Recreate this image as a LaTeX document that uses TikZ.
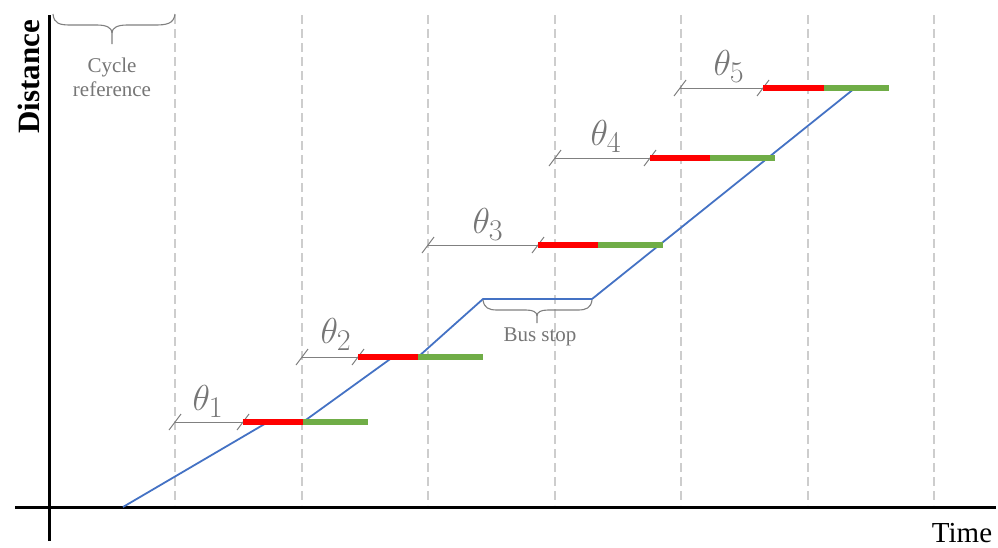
\documentclass[tikz,border=0pt]{standalone}
\usepackage{fontspec}
\setmainfont{Liberation Serif}
\definecolor{gridgray}{RGB}{205,205,205}
\definecolor{txtgray}{RGB}{118,118,118}
\definecolor{dimgray}{RGB}{128,128,128}
\definecolor{sigred}{RGB}{255,0,0}
\definecolor{siggreen}{RGB}{112,173,71}
\definecolor{trajblue}{RGB}{68,114,196}
\begin{document}
\begin{tikzpicture}[x=1pt,y=-1pt,
  axis/.style={line width=3pt,black},
  gridline/.style={gridgray,line width=1.2pt,dash pattern=on 9pt off 5pt},
  dimline/.style={dimgray,line width=1pt},
  tickmark/.style={dimgray,line width=1pt},
  redbar/.style={sigred,line width=6pt},
  greenbar/.style={siggreen,line width=6pt},
  traj/.style={trajblue,line width=1.8pt,line join=round},
  bracestyle/.style={dimgray,line width=1.1pt,line join=round},
  thetalabel/.style={txtgray,font=\Huge,scale=1.45,inner sep=0pt},
  graytext/.style={txtgray,font=\fontsize{21}{24}\selectfont,align=center,inner sep=0pt},
  axislabel/.style={black,inner sep=0pt}
]
\useasboundingbox (0,0) rectangle (998,547);
% grid lines
\foreach \gx [count=\i] in {175,302,428,555,681,808,934}{
  \coordinate (gt\i) at (\gx,15);
  \coordinate (gb\i) at (\gx,505);
  \draw[gridline] (gt\i) -- (gb\i);
}
% axes
\coordinate (yb) at (49,541);
\coordinate (yt) at (49,15);
\coordinate (xl) at (15,507);
\coordinate (xr) at (996,507);
\draw[axis] (yb) -- (yt);
\draw[axis] (xl) -- (xr);
\node[axislabel,rotate=90,font=\fontsize{31}{34}\selectfont\bfseries] (dist) at (29,77) {Distance};
\node[axislabel,font=\fontsize{29}{32}\selectfont] (time) at (962,533) {Time};
% trajectory
\coordinate (p0) at (123,507);
\coordinate (p1) at (268,422);
\coordinate (q1) at (303,422);
\coordinate (p2) at (393,357);
\coordinate (q2) at (418,357);
\coordinate (bs1) at (483,299);
\coordinate (bs2) at (592,299);
\coordinate (pend) at (855,88);
\draw[traj] (p0) -- (p1) -- (q1) -- (p2) -- (q2) -- (bs1) -- (bs2) -- (pend);
% signal bars and offsets
\foreach \s/\r/\g/\e/\yy/\lx/\ly [count=\k] in
  {175/243/303/368/422/208/401,
   302/358/418/483/357/336/334,
   428/538/598/663/245/488/224,
   555/650/710/775/158/606/136,
   680/763/824/889/88/729/66}{
  \coordinate (ds\k) at (\s,\yy);
  \coordinate (rs\k) at (\r,\yy);
  \coordinate (gs\k) at (\g,\yy);
  \coordinate (ge\k) at (\e,\yy);
  \draw[dimline] (ds\k) -- (rs\k);
  \draw[tickmark] ([shift={(-6,8)}]ds\k) -- ([shift={(6,-8)}]ds\k);
  \draw[tickmark] ([shift={(-6,8)}]rs\k) -- ([shift={(6,-8)}]rs\k);
  \draw[redbar] (rs\k) -- (gs\k);
  \draw[greenbar] (gs\k) -- (ge\k);
  \node[thetalabel] (th\k) at (\lx,\ly) {$\theta_{\k}$};
}
% cycle reference brace
\coordinate (cr1) at (53,14);
\coordinate (cr2) at (175,14);
\coordinate (crm) at (112,33);
\coordinate (crt) at (112,44);
\draw[bracestyle] (cr1) .. controls (54,24) and (60,25) .. (71,25) -- (97,25)
  .. controls (107,25) and (112,28) .. (crm) -- (crt);
\draw[bracestyle] (cr2) .. controls (174,24) and (166,25) .. (155,25) -- (127,25)
  .. controls (117,25) and (112,28) .. (crm);
\node[graytext] (cyc) at (112,77) {Cycle\\reference};
% bus stop brace
\coordinate (bb1) at (483,300);
\coordinate (bb2) at (592,300);
\coordinate (bbm) at (537,316);
\coordinate (bbt) at (537,323);
\draw[bracestyle] (bb1) .. controls (484,308) and (489,310) .. (497,310) -- (526,310)
  .. controls (533,310) and (537,312) .. (bbm) -- (bbt);
\draw[bracestyle] (bb2) .. controls (591,308) and (586,310) .. (578,310) -- (548,310)
  .. controls (541,310) and (537,312) .. (bbm);
\node[graytext] (bus) at (540,337) {Bus stop};
\end{tikzpicture}
\end{document}
